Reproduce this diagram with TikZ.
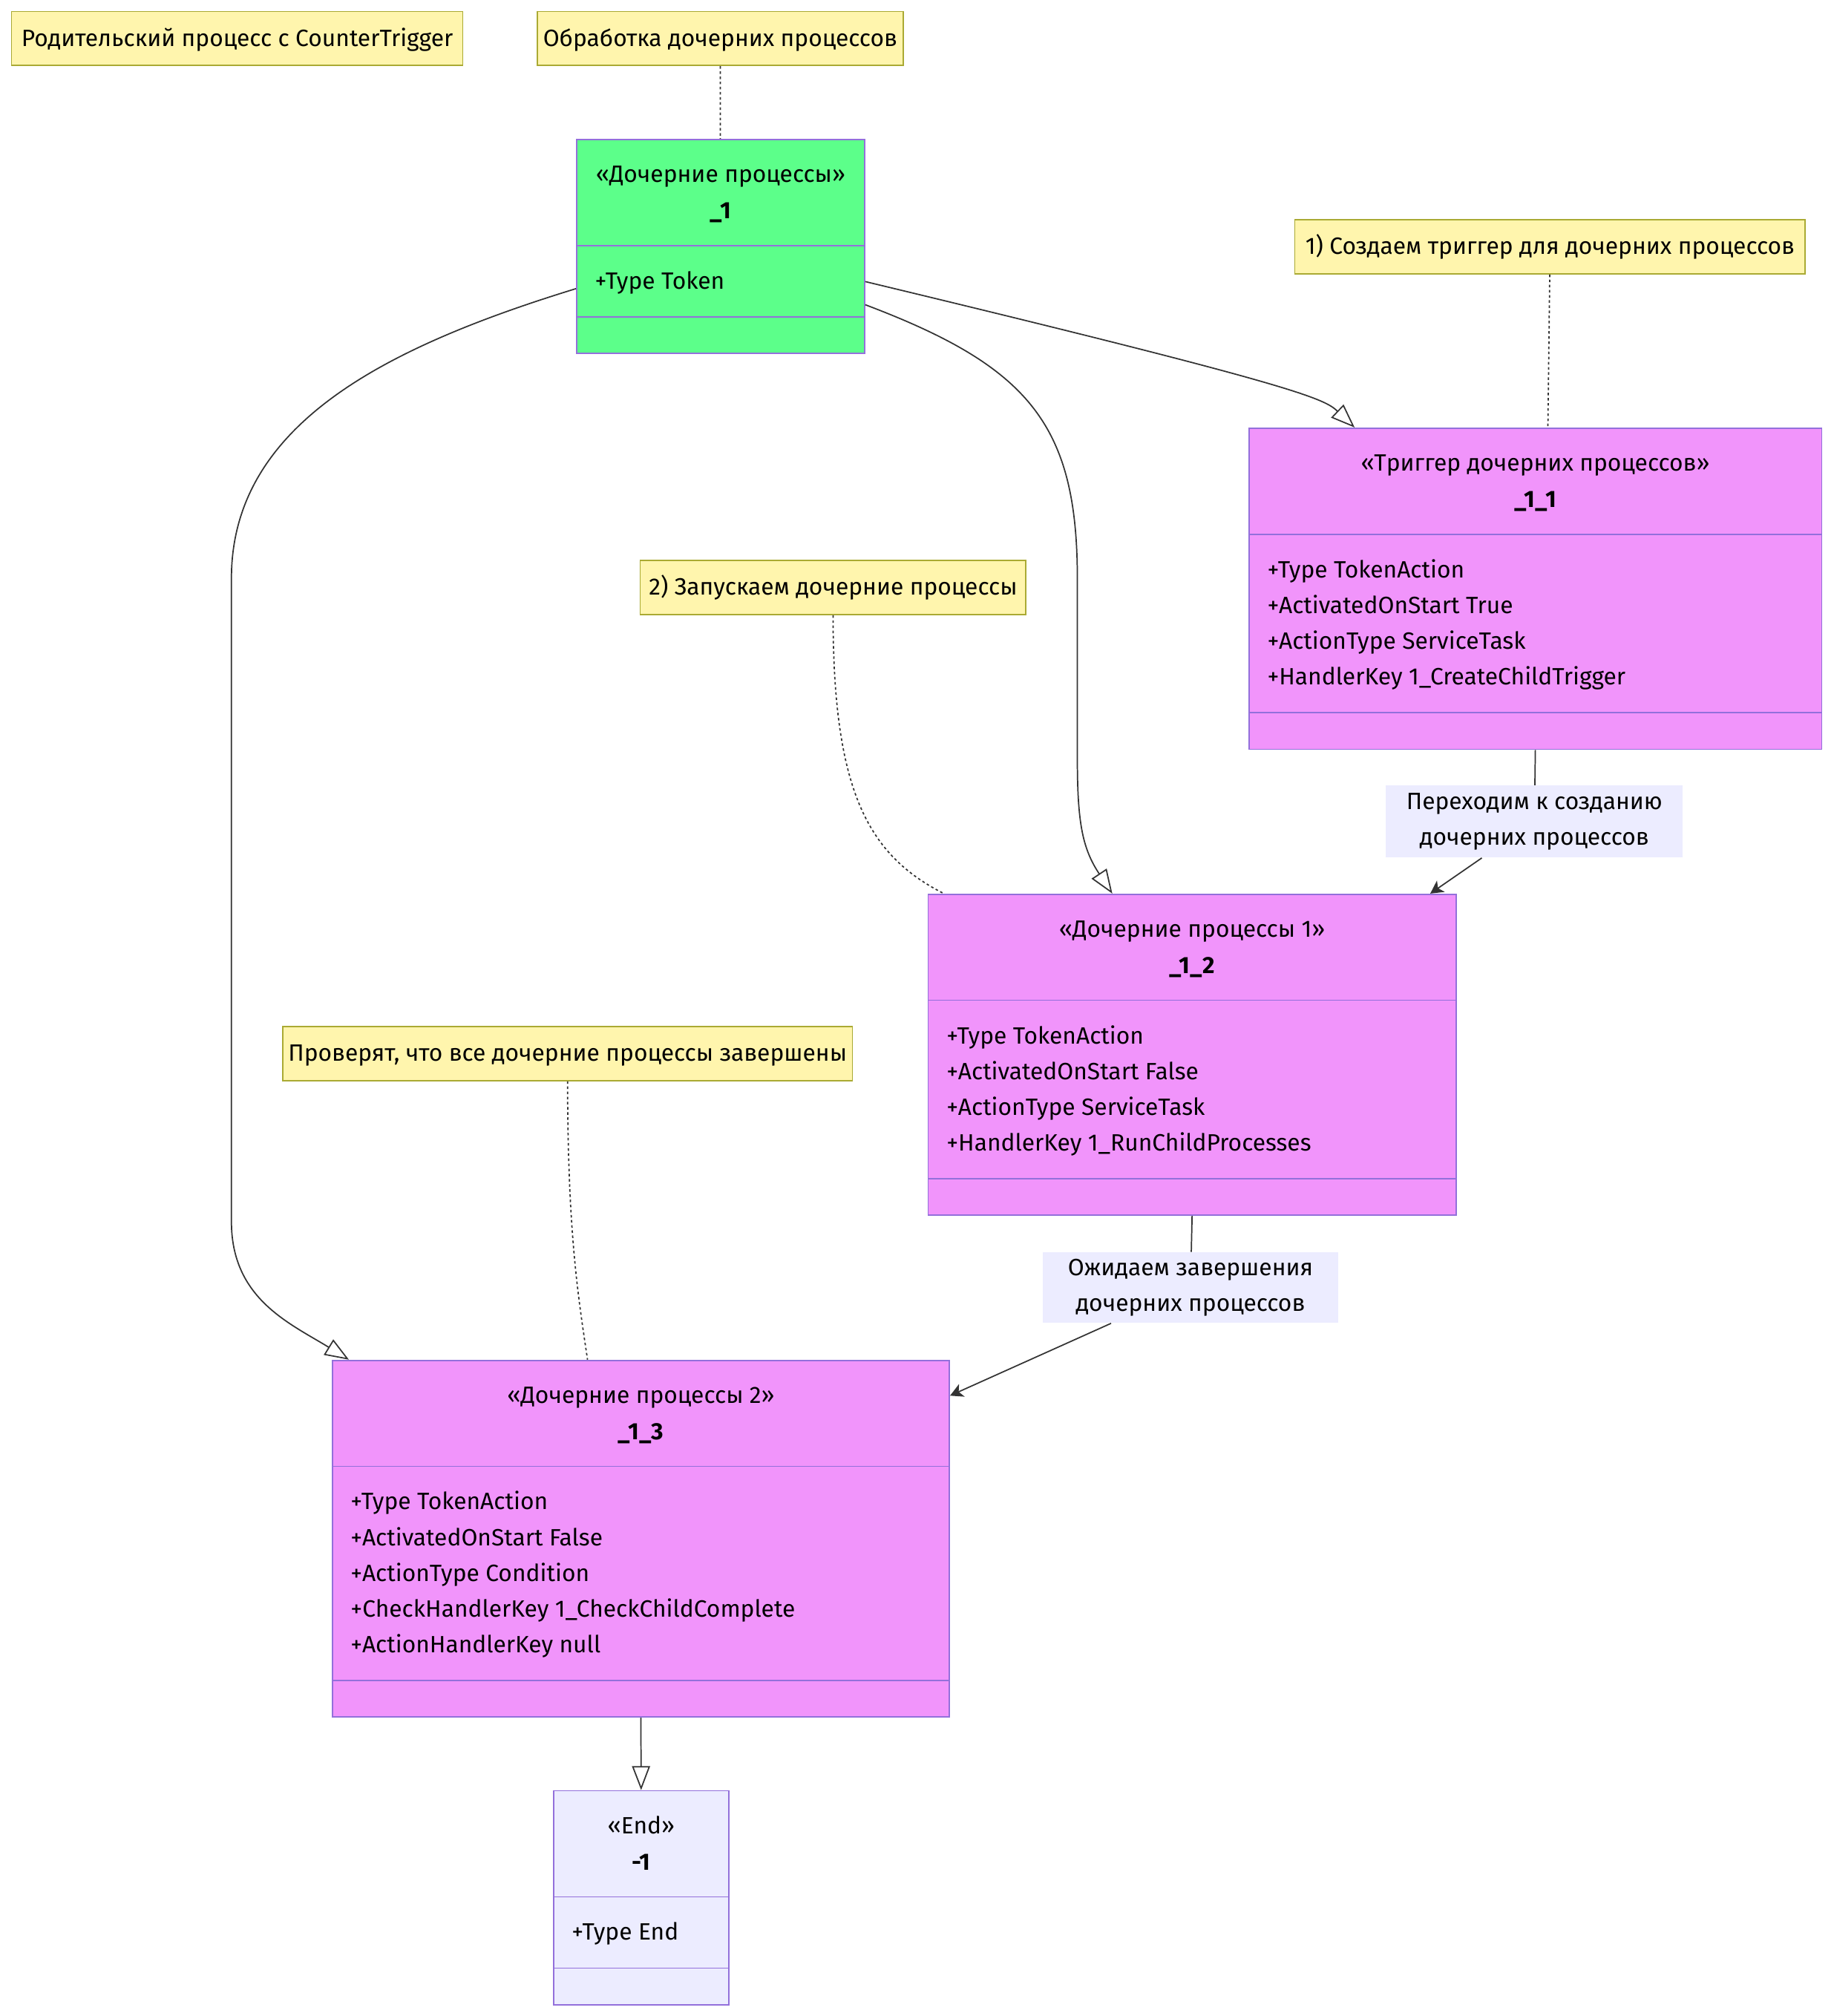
\documentclass[tikz,border=0pt]{standalone}
\usepackage{fontspec}
\setmainfont{Fira Sans}
\usetikzlibrary{positioning,calc,arrows.meta}

\definecolor{notefill}{HTML}{FFF5AD}
\definecolor{notedraw}{HTML}{AAAA33}
\definecolor{clsdraw}{HTML}{9370DB}
\definecolor{tokenfill}{HTML}{5CFF8A}
\definecolor{actionfill}{HTML}{F194FB}
\definecolor{endfill}{HTML}{ECECFF}
\definecolor{edgecol}{HTML}{333333}

\newcommand{\px}{0.75pt}
\newcommand{\fsize}{\fontsize{13.75}{21}\selectfont}

% class box: name, x, y (north west), width, fill, stereotype, title, attributes
\newcommand{\umlclass}[8]{%
  \foreach \a [count=\k] in {#8} {\xdef\nattr{\k}}%
  \pgfmathsetmacro\hsec{83+27.75*(\nattr+1)}%
  \node[umlbox, fill=#5, minimum width=#4*\px, minimum height={(\hsec+28)*\px}, anchor=north west] (#1) at (#2,#3) {};
  \draw[umlrule] ($(#1.north west)+(0,83)$) -- ($(#1.north east)+(0,83)$);
  \draw[umlrule] ($(#1.north west)+(0,\hsec)$) -- ($(#1.north east)+(0,\hsec)$);
  \node[umltext] at ($(#1.north)+(0,34)$) {«#6»};
  \node[umltext, font=\fsize\bfseries] at ($(#1.north)+(0,62)$) {#7};
  \foreach \a [count=\k] in {#8} {\node[umltext, anchor=base west] at ($(#1.north west)+(14.5,{89+27.75*\k})$) {\a};}%
}

\begin{document}
\begin{tikzpicture}[x=\px, y=-\px, font=\fsize,
  note/.style={draw=notedraw, fill=notefill, line width=\px, minimum height=42*\px, inner sep=0pt, text height=9pt, text depth=0pt},
  umlbox/.style={draw=clsdraw, line width=\px, inner sep=0pt},
  umlrule/.style={draw=clsdraw, line width=\px},
  umltext/.style={anchor=base, inner sep=0pt},
  elabel/.style={fill=endfill, inner sep=0pt, align=center},
  ext/.style={draw=edgecol, line width=\px, -{Triangle[open, fill=white, length=14pt, width=10.5pt]}},
  flow/.style={draw=edgecol, line width=\px, -{Stealth[length=7.5pt, width=8pt, inset=2pt]}},
  plain/.style={draw=edgecol, line width=\px},
  link/.style={draw=edgecol, line width=\px, dash pattern=on 1.5pt off 1.5pt}]
  \useasboundingbox (0,0) rectangle (1426,1568);

  % ---- notes ----
  \node[note, minimum width=351*\px] (n0) at (184.5,30) {Родительский процесс с CounterTrigger};
  \node[note, minimum width=284.5*\px] (n1) at (560.2,30) {Обработка дочерних процессов};
  \node[note, minimum width=397*\px] (n2) at (1205.7,192) {1) Создаем триггер для дочерних процессов};
  \node[note, minimum width=300*\px] (n3) at (648,457) {2) Запускаем дочерние процессы};
  \node[note, minimum width=443*\px] (n4) at (441.5,819.5) {Проверят, что все дочерние процессы завершены};

  % ---- classes ----
  \umlclass{c1}{448}{108}{224}{tokenfill}{Дочерние процессы}{\_1}{+Type Token}
  \umlclass{c2}{971}{332.5}{445.5}{actionfill}{Триггер дочерних процессов}{\_1\_1}%
    {+Type TokenAction,+ActivatedOnStart True,+ActionType ServiceTask,+HandlerKey 1\_CreateChildTrigger}
  \umlclass{c3}{721.5}{695}{410.5}{actionfill}{Дочерние процессы 1}{\_1\_2}%
    {+Type TokenAction,+ActivatedOnStart False,+ActionType ServiceTask,+HandlerKey 1\_RunChildProcesses}
  \umlclass{c4}{258}{1057.5}{480}{actionfill}{Дочерние процессы 2}{\_1\_3}%
    {+Type TokenAction,+ActivatedOnStart False,+ActionType Condition,+CheckHandlerKey 1\_CheckChildComplete,+ActionHandlerKey null}
  \umlclass{c5}{430}{1392.3}{136.4}{endfill}{End}{-1}{+Type End}

  % ---- edge labels ----
  \node[elabel, minimum width=231*\px, minimum height=56*\px] (l1) at (1193.5,639) {Переходим к созданию\\дочерних процессов};
  \node[elabel, minimum width=230*\px, minimum height=55*\px] (l2) at (926,1001.5) {Ожидаем завершения\\дочерних процессов};

  % ---- inheritance ----
  \draw[ext] ($(c1.north east)+(0,111)$) .. controls (1010,300) and (1030,310) .. ($(c2.north west)+(82.7,0)$);
  \draw[ext] ($(c1.north east)+(0,129)$) .. controls (800,285) and (838,330) .. (838,450) -- (838,590)
    .. controls (838,640) and (842,660) .. ($(c3.north west)+(143.7,0)$);
  \draw[ext] ($(c1.north west)+(0,116.5)$) .. controls (300,270) and (180,330) .. (180,450) -- (180,950)
    .. controls (180,1010) and (225,1029) .. ($(c4.north west)+(13.4,0)$);
  \draw[ext] (c4.south) -- (c5.north);

  % ---- transitions ----
  \draw[plain] (c2.south) -- (l1);
  \draw[flow] (l1) -- ($(c3.north west)+(391,0)$);
  \draw[plain] (c3.south) -- (l2);
  \draw[flow] (l2) -- ($(c4.north east)+(0,28)$);

  % ---- note links ----
  \draw[link] (n1) -- (c1);
  \draw[link] (n2) -- ($(c2.north west)+(233,0)$);
  \draw[link] (n3) .. controls (648,615) and (675,665) .. ($(c3.north west)+(12.7,0)$);
  \draw[link] (n4) .. controls (441.5,960) and (450,1010) .. ($(c4.north west)+(199,0)$);
\end{tikzpicture}
\end{document}
